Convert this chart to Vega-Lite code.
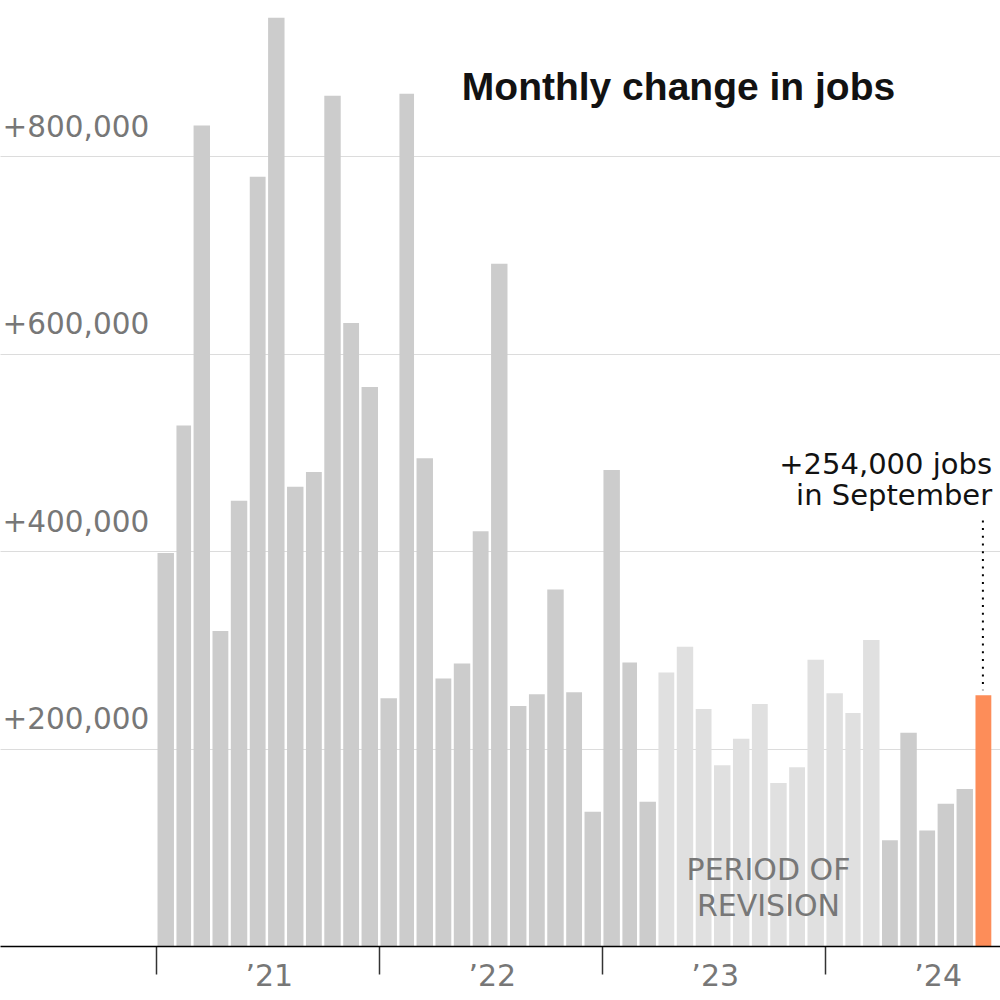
{
  "$schema": "https://vega.github.io/schema/vega-lite/v6.json",
  "width": 1000,
  "height": 946,
  "autosize": "none",
  "padding": {"left": 0, "top": 0, "right": 0, "bottom": 54},
  "background": "white",
  "config": {"view": {"stroke": null}},
  "datasets": {
    "jobs": [
      {"date": "2021-01-01", "jobs": 398000, "group": "normal"},
      {"date": "2021-02-01", "jobs": 527000, "group": "normal"},
      {"date": "2021-03-01", "jobs": 831000, "group": "normal"},
      {"date": "2021-04-01", "jobs": 319000, "group": "normal"},
      {"date": "2021-05-01", "jobs": 451000, "group": "normal"},
      {"date": "2021-06-01", "jobs": 779000, "group": "normal"},
      {"date": "2021-07-01", "jobs": 940000, "group": "normal"},
      {"date": "2021-08-01", "jobs": 465000, "group": "normal"},
      {"date": "2021-09-01", "jobs": 480000, "group": "normal"},
      {"date": "2021-10-01", "jobs": 861000, "group": "normal"},
      {"date": "2021-11-01", "jobs": 631000, "group": "normal"},
      {"date": "2021-12-01", "jobs": 566000, "group": "normal"},
      {"date": "2022-01-01", "jobs": 251000, "group": "normal"},
      {"date": "2022-02-01", "jobs": 863000, "group": "normal"},
      {"date": "2022-03-01", "jobs": 494000, "group": "normal"},
      {"date": "2022-04-01", "jobs": 271000, "group": "normal"},
      {"date": "2022-05-01", "jobs": 286000, "group": "normal"},
      {"date": "2022-06-01", "jobs": 420000, "group": "normal"},
      {"date": "2022-07-01", "jobs": 691000, "group": "normal"},
      {"date": "2022-08-01", "jobs": 243000, "group": "normal"},
      {"date": "2022-09-01", "jobs": 255000, "group": "normal"},
      {"date": "2022-10-01", "jobs": 361000, "group": "normal"},
      {"date": "2022-11-01", "jobs": 257000, "group": "normal"},
      {"date": "2022-12-01", "jobs": 136000, "group": "normal"},
      {"date": "2023-01-01", "jobs": 482000, "group": "normal"},
      {"date": "2023-02-01", "jobs": 287000, "group": "normal"},
      {"date": "2023-03-01", "jobs": 146000, "group": "normal"},
      {"date": "2023-04-01", "jobs": 277000, "group": "revision"},
      {"date": "2023-05-01", "jobs": 303000, "group": "revision"},
      {"date": "2023-06-01", "jobs": 240000, "group": "revision"},
      {"date": "2023-07-01", "jobs": 183000, "group": "revision"},
      {"date": "2023-08-01", "jobs": 210000, "group": "revision"},
      {"date": "2023-09-01", "jobs": 245000, "group": "revision"},
      {"date": "2023-10-01", "jobs": 165000, "group": "revision"},
      {"date": "2023-11-01", "jobs": 181000, "group": "revision"},
      {"date": "2023-12-01", "jobs": 290000, "group": "revision"},
      {"date": "2024-01-01", "jobs": 256000, "group": "revision"},
      {"date": "2024-02-01", "jobs": 236000, "group": "revision"},
      {"date": "2024-03-01", "jobs": 310000, "group": "revision"},
      {"date": "2024-04-01", "jobs": 107000, "group": "normal"},
      {"date": "2024-05-01", "jobs": 216000, "group": "normal"},
      {"date": "2024-06-01", "jobs": 117000, "group": "normal"},
      {"date": "2024-07-01", "jobs": 144000, "group": "normal"},
      {"date": "2024-08-01", "jobs": 159000, "group": "normal"},
      {"date": "2024-09-01", "jobs": 254000, "group": "current"}
    ],
    "leader": [{"date": "2024-09-01", "top": 431000, "bottom": 259000}],
    "annot": [{"date": "2024-10-01", "jobs": 478000, "text": ["+254,000 jobs", "in September"]}],
    "period": [{"date": "2023-10-01", "jobs": 67000, "text": ["PERIOD OF", "REVISION"]}],
    "title": [{"date": "2022-05-17", "jobs": 857000, "text": "Monthly change in jobs"}]
  },
  "layer": [
    {
      "data": {"name": "jobs"},
      "mark": {"type": "bar", "binSpacing": 2.5},
      "encoding": {
        "x": {
          "field": "date", "type": "temporal", "timeUnit": "utcyearmonth",
          "scale": {"type": "utc", "domain": [{"year": 2020, "month": 4, "date": 21, "utc": true}, {"year": 2024, "month": 10, "date": 14, "utc": true}]},
          "axis": {
            "title": null, "grid": false, "zindex": 1,
            "tickCount": {"interval": "year", "step": 1},
            "format": "’%y",
            "domainColor": "#000", "domainWidth": 1.5,
            "tickColor": "#333", "tickWidth": 1.5, "tickSize": 28,
            "labelOffset": 113, "labelAlign": "center", "labelBaseline": "alphabetic", "labelPadding": 11,
            "labelFont": "DejaVu Sans", "labelFontSize": 30, "labelColor": "#777",
            "labelFlush": false, "labelOverlap": false, "labelBound": false
          }
        },
        "y": {
          "field": "jobs", "type": "quantitative",
          "scale": {"domain": [0, 958000], "nice": false},
          "axis": {
            "title": null, "domain": false, "ticks": false, "tickSize": 0,
            "values": [200000, 400000, 600000, 800000],
            "grid": true, "gridColor": "#dcdcdc", "gridWidth": 1,
            "labelAlign": "left", "labelBaseline": "alphabetic", "labelPadding": -2, "labelOffset": -20,
            "labelFont": "DejaVu Sans", "labelFontSize": 29.5, "labelColor": "#777",
            "labelExpr": "'+' + format(datum.value, ',')"
          }
        },
        "color": {
          "field": "group", "type": "nominal", "legend": null,
          "scale": {"domain": ["normal", "revision", "current"], "range": ["#cccccc", "#e0e0e0", "#fd8d59"]}
        }
      }
    },
    {
      "data": {"name": "leader"},
      "mark": {"type": "rule", "color": "#000", "strokeWidth": 2, "strokeDash": [2, 5.7]},
      "encoding": {
        "x": {"field": "date", "type": "temporal", "timeUnit": "utcyearmonth", "bandPosition": 0.5},
        "y": {"field": "top", "type": "quantitative"},
        "y2": {"field": "bottom"}
      }
    },
    {
      "data": {"name": "annot"},
      "mark": {"type": "text", "align": "right", "baseline": "alphabetic", "font": "DejaVu Sans", "fontSize": 29, "lineHeight": 31, "color": "#121212"},
      "encoding": {
        "x": {"field": "date", "type": "temporal"},
        "y": {"field": "jobs", "type": "quantitative"},
        "text": {"field": "text"}
      }
    },
    {
      "data": {"name": "period"},
      "mark": {"type": "text", "align": "center", "baseline": "alphabetic", "font": "DejaVu Sans", "fontSize": 30, "lineHeight": 36, "color": "#777"},
      "encoding": {
        "x": {"field": "date", "type": "temporal"},
        "y": {"field": "jobs", "type": "quantitative"},
        "text": {"field": "text"}
      }
    },
    {
      "data": {"name": "title"},
      "mark": {"type": "text", "align": "left", "baseline": "alphabetic", "font": "Liberation Sans", "fontWeight": "bold", "fontSize": 39, "color": "#121212"},
      "encoding": {
        "x": {"field": "date", "type": "temporal"},
        "y": {"field": "jobs", "type": "quantitative"},
        "text": {"field": "text"}
      }
    }
  ]
}
